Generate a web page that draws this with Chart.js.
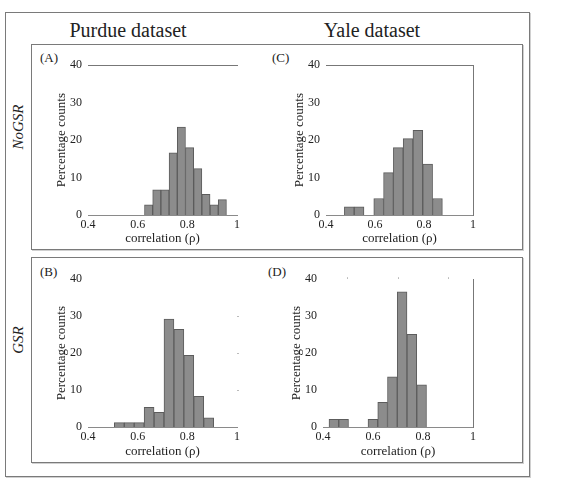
<!DOCTYPE html>
<html>
<head>
<meta charset="utf-8">
<script src="https://cdn.jsdelivr.net/npm/chart.js@4.4.0/dist/chart.umd.min.js"></script>
<style>
  body { margin: 0; background: #fff; font-family: "Liberation Serif", serif; color: #222; }
  #wrap { position: relative; width: 568px; height: 488px; }
  .box { position: absolute; border: 1px solid #7a7a7a; box-shadow: 1px 1px 0 #d0d0d0; }
  .txt { position: absolute; white-space: nowrap; }
  .col { font-size: 20px; top: 19px; transform: translateX(-50%); }
  .row { font-size: 15px; font-style: italic; transform: translate(-50%, -50%) rotate(-90deg); }
  .tag { font-size: 13px; }
  canvas { position: absolute; }
</style>
</head>
<body>
<div id="wrap">
  <div class="box" style="left:5px;top:12px;width:523px;height:463px;"></div>
  <div class="box" style="left:31px;top:44px;width:490px;height:204px;"></div>
  <div class="box" style="left:31px;top:257px;width:490px;height:204px;"></div>

  <div class="txt col" style="left:128px;">Purdue dataset</div>
  <div class="txt col" style="left:372px;">Yale dataset</div>
  <div class="txt row" style="left:18px;top:127px;">NoGSR</div>
  <div class="txt row" style="left:18px;top:340px;">GSR</div>

  <div class="txt tag" style="left:40px;top:50px;">(A)</div>
  <div class="txt tag" style="left:272px;top:50px;">(C)</div>
  <div class="txt tag" style="left:40px;top:264px;">(B)</div>
  <div class="txt tag" style="left:268px;top:264px;">(D)</div>

  <canvas id="chartA" style="left:50px;top:52px;" width="200" height="196"></canvas>
  <canvas id="chartC" style="left:288px;top:52px;" width="200" height="196"></canvas>
  <canvas id="chartB" style="left:50px;top:266px;" width="200" height="195"></canvas>
  <canvas id="chartD" style="left:285px;top:266px;" width="203" height="195"></canvas>
</div>

<script>
// eixos
const xTicks = [0.4, 0.6, 0.8, 1];
const xTickLabels = ['0.4', '0.6', '0.8', '1'];
const yTicks = [0, 10, 20, 30, 40];
const yTickLabels = ['0', '10', '20', '30', '40'];

// (A) Purdue, NoGSR
const binsA = [0.644, 0.677, 0.710, 0.743, 0.776, 0.809, 0.842, 0.875, 0.908, 0.941];
const countsA = [2.7, 6.7, 6.7, 16.6, 23.5, 18.0, 12.4, 5.5, 2.7, 4.1];

// (C) Yale, NoGSR
const binsC = [0.495, 0.535, 0.575, 0.615, 0.655, 0.695, 0.735, 0.775, 0.815, 0.855];
const countsC = [2.2, 2.2, 0, 4.4, 11.3, 18.0, 20.4, 22.6, 13.6, 4.4];

// (B) Purdue, GSR
const binsB = [0.526, 0.566, 0.606, 0.646, 0.686, 0.726, 0.766, 0.806, 0.846, 0.886];
const countsB = [1.2, 1.2, 1.2, 5.3, 4.0, 29.2, 26.4, 19.4, 8.3, 2.5];

// (D) Yale, GSR
const binsD = [0.4435, 0.4825, 0.5215, 0.5605, 0.5995, 0.6385, 0.6775, 0.7165, 0.7555, 0.7945];
const countsD = [2.1, 2.1, 0, 0, 2.1, 6.7, 13.6, 36.6, 25.1, 11.4];

Chart.defaults.font.family = '"Liberation Serif", serif';
Chart.defaults.color = '#222';

function setTicks(values) {
    return (scale) => { scale.ticks = values.map(v => ({ value: v })); };
}

// eixos extras (linhas de moldura / marquinhas) de cada painel
function frameAxes(frame) {
    const scales = {};
    if (frame.top) {
        scales.xTop = {
            type: 'linear', position: 'top', display: true, min: 0.4, max: 1, offset: false,
            afterBuildTicks: setTicks(xTicks.slice(1, 3)),
            ticks: { display: false },
            grid: frame.top === 'dots'
                ? { display: true, drawOnChartArea: false, drawTicks: true, tickLength: 2, color: '#bbb' }
                : { display: false, drawTicks: false },
            border: { display: frame.top === 'line', color: '#777' }
        };
    }
    if (frame.right) {
        scales.yRight = {
            type: 'linear', position: 'right', display: true, min: 0, max: 40,
            afterBuildTicks: setTicks(yTicks.slice(1, 4)),
            ticks: { display: false },
            grid: frame.right === 'dots'
                ? { display: true, drawOnChartArea: false, drawTicks: true, tickLength: 2, color: '#bbb' }
                : { display: false, drawTicks: false },
            border: { display: frame.right === 'line', color: '#777' }
        };
    }
    return scales;
}

function makeHist(id, bins, counts, pad, xHeight, frame) {
    const ctx = document.getElementById(id).getContext('2d');
    return new Chart(ctx, {
        type: 'bar',
        data: {
            datasets: [{
                data: bins.map((b, i) => ({ x: b, y: counts[i] })),
                backgroundColor: '#8c8c8c',
                borderColor: '#5c5c5c',
                borderWidth: 1,
                borderSkipped: 'start',
                barPercentage: 1,
                categoryPercentage: 1
            }]
        },
        options: {
            responsive: false,
            animation: false,
            events: [],
            layout: { padding: pad },
            plugins: { legend: { display: false }, tooltip: { enabled: false } },
            scales: Object.assign({
                x: {
                    type: 'linear', position: 'bottom', min: 0.4, max: 1, offset: false,
                    afterBuildTicks: setTicks(xTicks),
                    afterFit: (s) => { s.height = xHeight; },
                    ticks: {
                        padding: 3, maxRotation: 0, font: { size: 12 },
                        callback: (v, i) => xTickLabels[i]
                    },
                    grid: { display: false, drawTicks: false, offset: false },
                    border: { display: true, color: '#8a8a8a' },
                    title: { display: true, text: 'correlation (ρ)', font: { size: 13 }, padding: { top: 0, bottom: 2 } }
                },
                y: {
                    type: 'linear', position: 'left', min: 0, max: 40,
                    afterBuildTicks: setTicks(yTicks),
                    afterFit: (s) => { s.width = 38; },
                    ticks: {
                        padding: 6, font: { size: 12 },
                        callback: (v, i) => yTickLabels[i]
                    },
                    grid: { display: false, drawTicks: false },
                    border: { display: false },
                    title: { display: true, text: 'Percentage counts', font: { size: 13 }, padding: { top: 4, bottom: 0 } }
                }
            }, frameAxes(frame))
        }
    });
}

makeHist('chartA', binsA, countsA, { top: 13, right: 13, left: 0, bottom: 0 }, 33, { top: 'line' });
makeHist('chartC', binsC, countsC, { top: 13, right: 15, left: 0, bottom: 0 }, 33, { top: 'line', right: 'line' });
makeHist('chartB', binsB, countsB, { top: 13, right: 11, left: 0, bottom: 0 }, 34, { right: 'dots' });
makeHist('chartD', binsD, countsD, { top: 11, right: 15, left: 0, bottom: 0 }, 34, { top: 'dots', right: 'line' });
</script>
</body>
</html>
